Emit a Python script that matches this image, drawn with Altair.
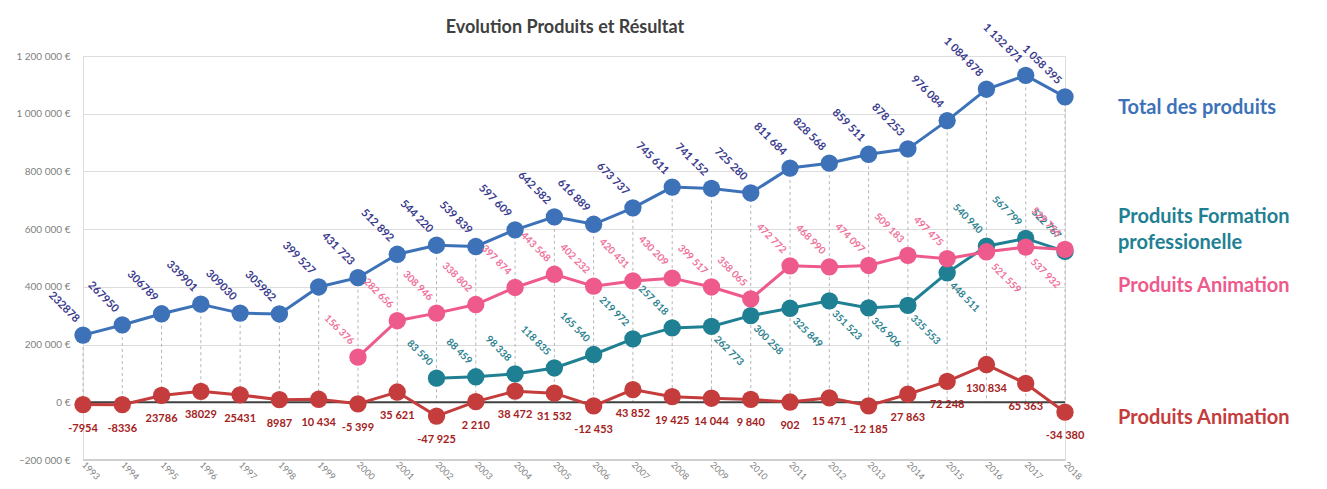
import altair as alt
import pandas as pd

years = list(range(1993, 2019))
total = [232878, 267950, 306789, 339901, 309030, 305982, 399527, 431723, 512892,
         544220, 539839, 597609, 642582, 616889, 673737, 745611, 741152, 725280,
         811684, 828568, 859511, 878253, 976084, 1084878, 1132871, 1058395]
anim_years = list(range(2000, 2019))
animation = [156376, 282656, 308946, 338802, 397874, 443568, 402232, 420431, 430209,
             399517, 358065, 472772, 468990, 474097, 509183, 497475, 521559, 537932, 529756]
form_years = list(range(2002, 2019))
formation = [83590, 88459, 98338, 118835, 165540, 219972, 257818, 262773, 300258,
             325849, 351523, 326906, 335553, 448511, 540940, 567799, 522767]
resultat = [-7954, -8336, 23786, 38029, 25431, 8987, 10434, -5399, 35621, -47925, 2210,
            38472, 31532, -12453, 43852, 19425, 14044, 9840, 902, 15471, -12185, 27863,
            72248, 130834, 65363, -34380]

# label placement groups (below-right vs above-left)
form_below = [2009, 2010, 2011, 2012, 2013, 2014, 2015]
anim_below = [2016, 2017]


def fmt(y, v):
    if y <= 1998:
        return str(v)
    return f"{v:,}".replace(",", " ")


def frame(yrs, vals, below=()):
    return pd.DataFrame({
        "year": yrs,
        "value": vals,
        "zero": [0] * len(yrs),
        "label": [fmt(y, v) for y, v in zip(yrs, vals)],
        "below": [y in below for y in yrs],
    })


df_total = frame(years, total)
df_anim = frame(anim_years, animation, anim_below)
df_form = frame(form_years, formation, form_below)
df_res = frame(years, resultat)

C_TOTAL = "#3D72B9"
C_TOTAL_LBL = "#3B3B8E"
C_ANIM = "#EE5A8C"
C_ANIM_LBL = "#F0709A"
C_FORM = "#1F8093"
C_FORM_LBL = "#2A7F8F"
C_RES = "#C43C3C"
C_RES_LBL = "#A32222"

xs = alt.Scale(type="point", padding=0)
ys = alt.Scale(domain=[-200000, 1200000], nice=False, zero=False)
xaxis = alt.Axis(labelAngle=45, labelAlign="left", labelBaseline="middle", labelPadding=3,
                 ticks=False, domain=False, grid=False, labelColor="#7F7F7F",
                 labelFontSize=9, labelFont="Lato", title=None)
yaxis = alt.Axis(values=list(range(-200000, 1200001, 200000)),
                 labelExpr="replace(replace(format(datum.value, ','), ',', ' '), ',', ' ') + ' €'",
                 grid=True, gridColor="#DDDDDD", gridWidth=1, domain=False, ticks=False,
                 labelPadding=13, labelFontSize=10, labelColor="#7F7F7F", labelFont="Lato",
                 title=None)

X = alt.X("year:O", scale=xs, axis=xaxis, title=None)
Y = alt.Y("value:Q", scale=ys, axis=yaxis, title=None)

base = alt.Chart(df_total)

drops = base.mark_rule(strokeDash=[3, 3], color="#B5B5B5", strokeWidth=1).encode(
    x=X, y=Y, y2=alt.Y2("zero:Q"))

bottom_line = alt.Chart(pd.DataFrame({"value": [-200000]})).mark_rule(
    color="#CFCFCF", strokeWidth=2).encode(y=Y)
zero_line = alt.Chart(pd.DataFrame({"value": [0]})).mark_rule(
    color="#404040", strokeWidth=2).encode(y=Y)


def series(df, color):
    c = alt.Chart(df)
    return (c.mark_line(color=color, strokeWidth=3).encode(x=X, y=Y)
            + c.mark_point(filled=True, size=300, color=color, opacity=1).encode(x=X, y=Y))


def labels_above(df, color, dx=-14, dy=-6, size=10):
    return alt.Chart(df).transform_filter("!datum.below").mark_text(
        angle=45, align="right", baseline="middle", dx=dx, dy=dy, color=color,
        fontSize=size, fontWeight="bold", font="Lato").encode(x=X, y=Y, text="label:N")


def labels_below(df, color, dx=11, dy=5, size=10):
    return alt.Chart(df).transform_filter("datum.below").mark_text(
        angle=45, align="left", baseline="middle", dx=dx, dy=dy, color=color,
        fontSize=size, fontWeight="bold", font="Lato").encode(x=X, y=Y, text="label:N")


res_labels = alt.Chart(df_res).mark_text(
    align="center", baseline="middle", dy=24, color=C_RES_LBL, fontSize=11,
    fontWeight="bold", font="Lato").encode(x=X, y=Y, text="label:N")

title = alt.Chart(pd.DataFrame({"t": ["Evolution Produits et Résultat"]})).mark_text(
    align="center", baseline="middle", fontSize=18, fontWeight="bold", color="#404040",
    font="Lato").encode(x=alt.value(482), y=alt.value(-28), text="t:N")

green_bar = alt.Chart(pd.DataFrame({"v": [0]})).mark_rule(
    color="#A6D98A", strokeWidth=3).encode(x=alt.value(-68), x2=alt.value(158), y=alt.value(-55))

legend_items = [
    ("Total des produits", 52, C_TOTAL),
    ("Produits Formation", 161, C_FORM),
    ("professionelle", 187, C_FORM),
    ("Produits Animation", 230, C_ANIM),
    ("Produits Animation", 362, C_RES),
]


def legend_text(txt, y, color):
    return alt.Chart(pd.DataFrame({"t": [txt]})).mark_text(
        align="left", baseline="middle", fontSize=20, fontWeight="bold", color=color,
        font="Lato").encode(x=alt.value(1035), y=alt.value(y), text="t:N")


layers = [bottom_line, drops, zero_line,
          series(df_res, C_RES), series(df_total, C_TOTAL),
          series(df_form, C_FORM), series(df_anim, C_ANIM),
          labels_above(df_total, C_TOTAL_LBL, size=11),
          labels_above(df_form, C_FORM_LBL), labels_below(df_form, C_FORM_LBL),
          labels_above(df_anim, C_ANIM_LBL), labels_below(df_anim, C_ANIM_LBL, dx=14),
          res_labels, title, green_bar] + [legend_text(*it) for it in legend_items]

chart = alt.layer(*layers).properties(
    width=982, height=404,
    autosize=alt.AutoSizeParams(type="none"),
    padding={"left": 75, "top": 48, "right": 254, "bottom": 21},
).configure_view(stroke=None).configure(background="white")

chart.save("out.html", embed_options={"renderer": "svg", "actions": False})
